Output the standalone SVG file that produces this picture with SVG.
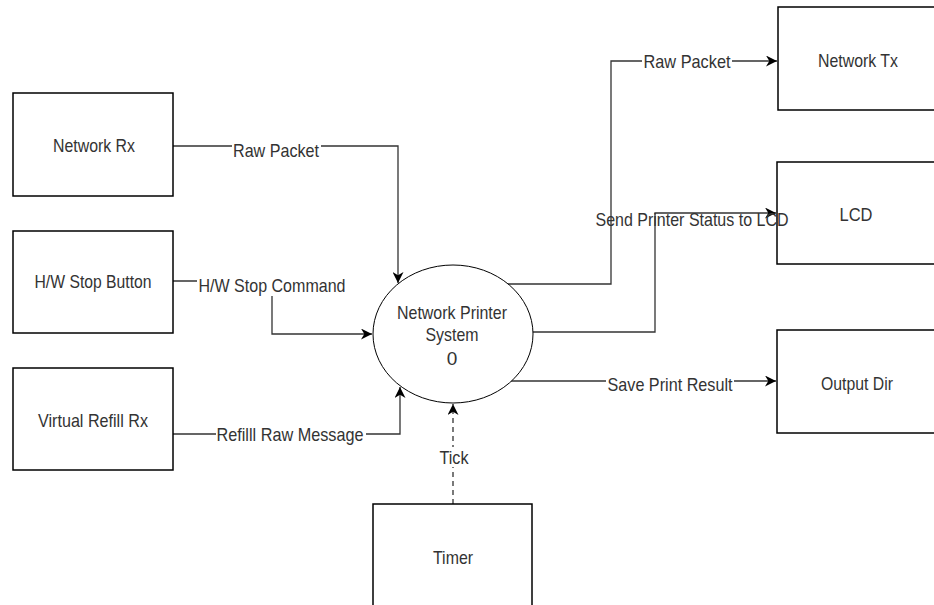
<svg xmlns="http://www.w3.org/2000/svg" width="934" height="605" viewBox="0 0 934 605">
<defs>
<style>
.box{fill:#fff;stroke:#000;stroke-width:1.5}
.ell{fill:#fff;stroke:#000;stroke-width:1}
.t{font-family:"Liberation Sans",Arial,sans-serif;font-size:19px;fill:#333;text-anchor:middle}
.e{fill:none;stroke:#333;stroke-width:1.3}
.d{stroke-dasharray:5,4}
.bg{fill:#fff}
</style>
<marker id="ah" viewBox="0 0 10 10" refX="10" refY="5" markerWidth="11" markerHeight="11" markerUnits="userSpaceOnUse" orient="auto">
<path d="M0,0 L10,5 L0,10 L3,5 Z" fill="#000"/>
</marker>
</defs>
<rect width="934" height="605" fill="#fff"/>
<g id="connectors">
<path class="e" d="M173,146 H398 V283" marker-end="url(#ah)"/>
<path class="e" d="M173,281 H272 V334 H372" marker-end="url(#ah)"/>
<path class="e" d="M173,434 H400 V387" marker-end="url(#ah)"/>
<path class="e d" d="M453,504 V404" marker-end="url(#ah)"/>
<path class="e" d="M508,284 H611 V61 H777" marker-end="url(#ah)"/>
<path class="e" d="M533,332 H655 V213 H776" marker-end="url(#ah)"/>
<path class="e" d="M511,381 H776" marker-end="url(#ah)"/>
</g>
<g id="network-rx">
<rect class="box" x="13" y="93" width="160" height="103"/>
<text class="t" x="94" y="152" textLength="82" lengthAdjust="spacingAndGlyphs">Network Rx</text>
</g>
<g id="hw-stop-button">
<rect class="box" x="13" y="231" width="160" height="102"/>
<text class="t" x="93" y="288" textLength="117" lengthAdjust="spacingAndGlyphs">H/W Stop Button</text>
</g>
<g id="virtual-refill-rx">
<rect class="box" x="13" y="368" width="160" height="102"/>
<text class="t" x="93" y="427" textLength="110" lengthAdjust="spacingAndGlyphs">Virtual Refill Rx</text>
</g>
<g id="network-printer-system">
<ellipse class="ell" cx="453" cy="334" rx="80" ry="69"/>
<text class="t" x="452" y="319" textLength="110" lengthAdjust="spacingAndGlyphs">Network Printer</text>
<text class="t" x="452" y="341" textLength="53" lengthAdjust="spacingAndGlyphs">System</text>
<text class="t" x="452" y="365">0</text>
</g>
<g id="timer">
<rect class="box" x="373" y="504" width="159" height="110"/>
<text class="t" x="453" y="564" textLength="40" lengthAdjust="spacingAndGlyphs">Timer</text>
</g>
<g id="network-tx">
<rect class="box" x="778" y="7" width="162" height="103"/>
<text class="t" x="858" y="67" textLength="80" lengthAdjust="spacingAndGlyphs">Network Tx</text>
</g>
<g id="lcd">
<rect class="box" x="777" y="162" width="163" height="102"/>
<text class="t" x="856" y="221" textLength="33" lengthAdjust="spacingAndGlyphs">LCD</text>
</g>
<g id="output-dir">
<rect class="box" x="777" y="330" width="163" height="103"/>
<text class="t" x="857" y="390" textLength="72" lengthAdjust="spacingAndGlyphs">Output Dir</text>
</g>
<g id="connector-labels">
<rect class="bg" x="232" y="137" width="89" height="20"/>
<text class="t" x="276" y="157" textLength="86" lengthAdjust="spacingAndGlyphs">Raw Packet</text>
<rect class="bg" x="197" y="274" width="150" height="22"/>
<text class="t" x="272" y="292" textLength="147" lengthAdjust="spacingAndGlyphs">H/W Stop Command</text>
<rect class="bg" x="216" y="424" width="150" height="20"/>
<text class="t" x="290" y="441" textLength="147" lengthAdjust="spacingAndGlyphs">Refilll Raw Message</text>
<rect class="bg" x="438" y="447" width="32" height="20"/>
<text class="t" x="454" y="464" textLength="29" lengthAdjust="spacingAndGlyphs">Tick</text>
<rect class="bg" x="642" y="51" width="90" height="20"/>
<text class="t" x="687" y="68" textLength="87" lengthAdjust="spacingAndGlyphs">Raw Packet</text>
<text class="t" x="692" y="226" textLength="193" lengthAdjust="spacingAndGlyphs">Send Printer Status to LCD</text>
<rect class="bg" x="606" y="374" width="128" height="20"/>
<text class="t" x="670" y="391" textLength="125" lengthAdjust="spacingAndGlyphs">Save Print Result</text>
</g>
</svg>
